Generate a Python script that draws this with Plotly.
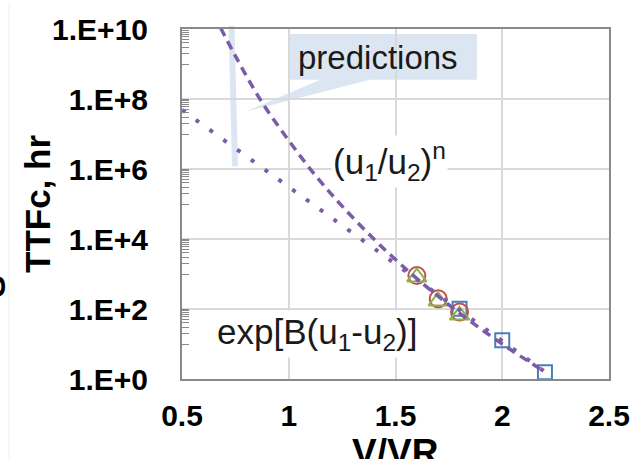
import plotly.graph_objects as go

# ---- data ----
v_circle = [1.6, 1.7, 1.8]
ttf_circle = [900, 196, 82]
v_tri = [1.6, 1.7, 1.8]
ttf_tri = [810, 167, 66]
v_sq = [1.8, 2.0, 2.2]
ttf_sq = [102, 12.8, 1.55]

v_pow = [0.68, 0.75, 0.865, 1.0, 1.13, 1.25, 1.4, 1.5, 1.6, 1.8, 2.0, 2.2]
ttf_pow = [1.1e10, 1.7e9, 1.0e8, 6.5e6, 6.0e5, 8.7e4, 9.8e3, 2.6e3, 740, 76, 10, 1.6]

v_exp = [0.5, 1.0, 1.5, 2.0, 2.2]
ttf_exp = [4.9e7, 3.1e5, 1.9e3, 11.5, 1.6]

x_ticks = [0.5, 1.0, 1.5, 2.0, 2.5]
x_ticktext = ["0.5", "1", "1.5", "2", "2.5"]
y_ticks = [1, 1e2, 1e4, 1e6, 1e8, 1e10]
y_ticktext = ["1.E+0", "1.E+2", "1.E+4", "1.E+6", "1.E+8", "1.E+10"]
minor_mult = [1, 2, 3, 4, 5, 6, 7, 8, 9]
minor_dec = [1e1, 1e3, 1e5, 1e7, 1e9]
y_minor = [m * d for d in minor_dec for m in minor_mult]

LINE = "#7a5ca8"
FONT = "Liberation Sans"

# ---- layout geometry (pixels) ----
W, H = 644, 459
L, R, T, B = 182, 35, 27, 80
PW, PH = W - L - R, H - T - B


def px(x):
    return (x - L) / PW


def py(y):
    return (H - B - y) / PH


fig = go.Figure()

fig.add_trace(go.Scatter(x=v_sq, y=ttf_sq, mode="markers",
                         marker=dict(symbol="square-open", size=14, color="#4a7ebb", line=dict(width=2))))
fig.add_trace(go.Scatter(x=v_circle, y=ttf_circle, mode="markers",
                         marker=dict(symbol="circle-open", size=17, color="#c0504d", line=dict(width=2))))
fig.add_trace(go.Scatter(x=v_tri, y=ttf_tri, mode="markers",
                         marker=dict(symbol="triangle-up-open", size=17, color="#8db34a", line=dict(width=2))))
fig.add_trace(go.Scatter(x=v_pow, y=ttf_pow, mode="lines",
                         line=dict(color=LINE, width=3.5, dash="9px,6px", shape="spline")))
fig.add_trace(go.Scatter(x=v_exp, y=ttf_exp, mode="lines",
                         line=dict(color=LINE, width=4, dash="4px,13px")))

shapes = [
    # callout box with pointer
    dict(type="path", xref="paper", yref="paper", layer="between",
         path=(f"M {px(290)} {py(32)} L {px(477)} {py(32)} L {px(477)} {py(78)} "
               f"L {px(370)} {py(78)} L {px(246)} {py(110)} L {px(320)} {py(78)} "
               f"L {px(290)} {py(78)} Z"),
         fillcolor="#dce6f2", line=dict(width=0)),
    # thin vertical pointer band
    dict(type="path", xref="paper", yref="paper", layer="between",
         path=(f"M {px(228.5)} {py(24)} L {px(234.5)} {py(24)} L {px(238)} {py(165)} "
               f"L {px(232)} {py(165)} Z"),
         fillcolor="#dce6f2", line=dict(width=0)),
    # faint line at far left
    dict(type="line", xref="paper", yref="paper", x0=px(9), x1=px(9), y0=py(0), y1=py(459),
         line=dict(color="#f0f0f0", width=1)),
]

C = dict(xanchor="center", yanchor="middle", showarrow=False, xref="paper", yref="paper")
annotations = [
    dict(text="predictions", x=px(378), y=py(56),
         font=dict(family=FONT, size=33, color="#1a1a1a"), **C),
    dict(text="(u<sub>1</sub>/u<sub>2</sub>)<sup>n</sup>", x=px(389), y=py(160), bgcolor="white",
         font=dict(family=FONT, size=35, color="#1a1a1a"), **C),
    dict(text="exp[B(u<sub>1</sub>-u<sub>2</sub>)]", x=px(317), y=py(334), bgcolor="white",
         font=dict(family=FONT, size=35, color="#1a1a1a"), **C),
    dict(text="V/VR", x=px(395), y=py(453),
         font=dict(family=FONT, size=37, color="black", weight="bold"), **C),
    dict(text="TTFc, hr", x=px(37), y=py(203), textangle=-90,
         font=dict(family=FONT, size=35, color="black", weight="bold"), **C),
    dict(text="S", x=px(-6), y=py(286), textangle=-90,
         font=dict(family=FONT, size=33, color="black", weight="bold"), **C),
]

fig.update_layout(
    width=W, height=H,
    margin=dict(l=L, r=R, t=T, b=B),
    paper_bgcolor="white", plot_bgcolor="white",
    showlegend=False,
    shapes=shapes, annotations=annotations,
    xaxis=dict(range=[0.5, 2.5], tickmode="array", tickvals=x_ticks, ticktext=x_ticktext,
               showgrid=True, gridcolor="#d9d9d9", gridwidth=1.5,
               showline=True, linecolor="#898989", linewidth=2, mirror=True,
               ticks="", ticklabelstandoff=9, zeroline=False,
               tickfont=dict(family=FONT, size=30, color="black", weight="bold")),
    yaxis=dict(type="log", range=[0, 10], tickmode="array", tickvals=y_ticks, ticktext=y_ticktext,
               showgrid=True, gridcolor="#d9d9d9", gridwidth=1.5,
               showline=True, linecolor="#898989", linewidth=2, mirror=True,
               ticks="inside", ticklen=7, tickcolor="#898989", tickwidth=1,
               ticklabelstandoff=26, zeroline=False,
               minor=dict(tickmode="array", tickvals=y_minor, ticks="inside", ticklen=7,
                          tickcolor="#898989", tickwidth=1, showgrid=False),
               tickfont=dict(family=FONT, size=30, color="black", weight="bold")),
)

fig.write_html("out.html", config={"displayModeBar": False},
               post_script="document.body.style.margin='0px';")
